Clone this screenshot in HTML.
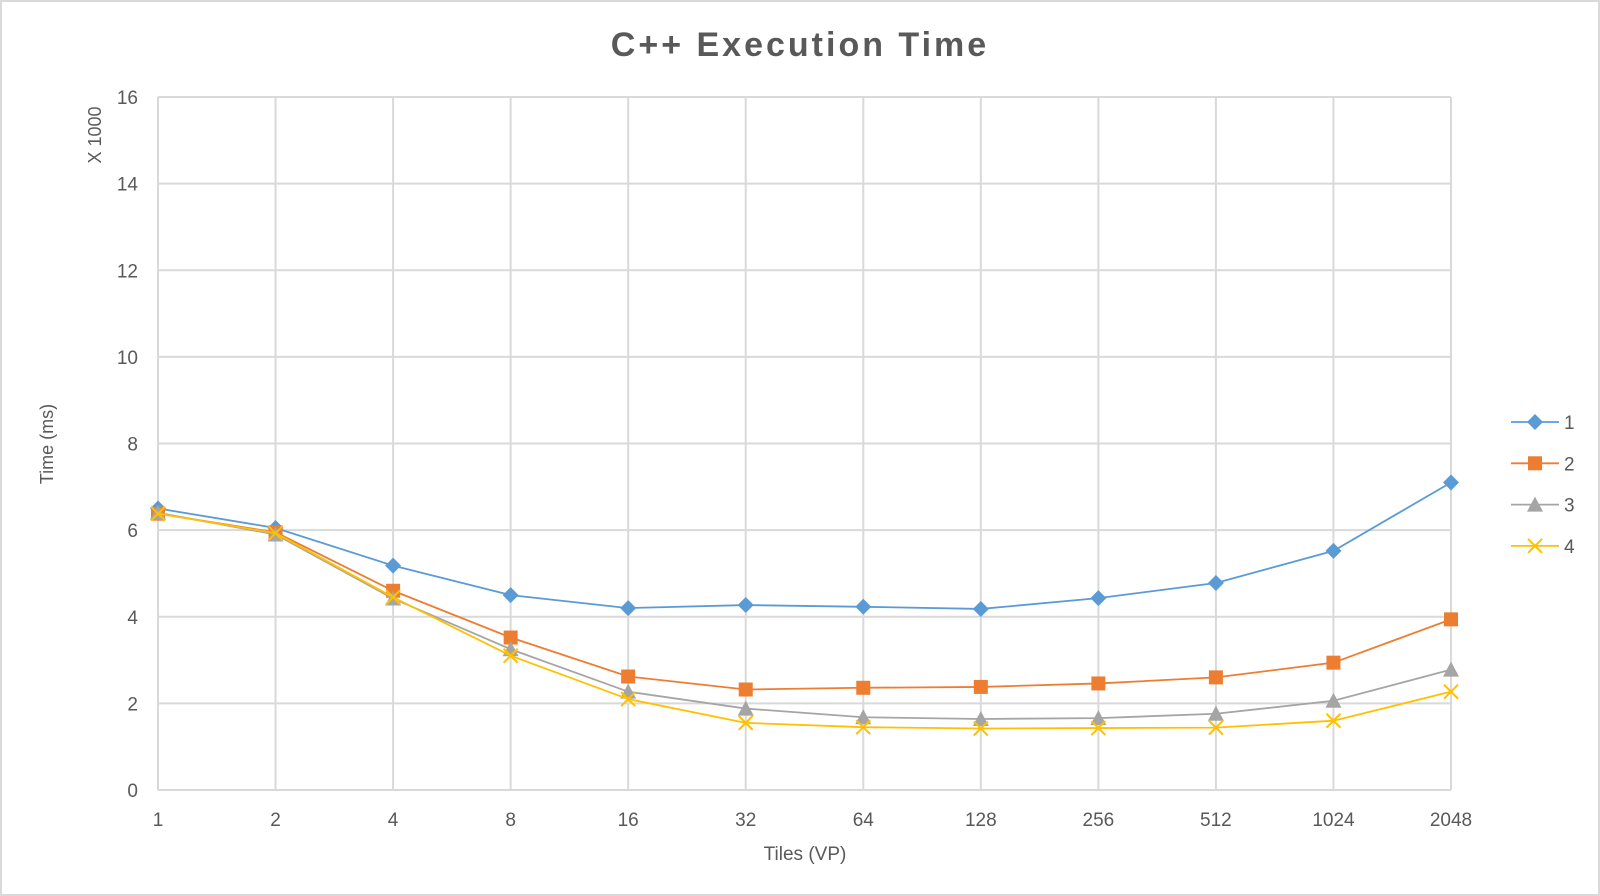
<!DOCTYPE html>
<html><head><meta charset="utf-8"><style>
body{margin:0;background:#fff}
svg{display:block;font-family:"Liberation Sans",sans-serif}
</style></head><body>
<svg width="1600" height="896">
<rect x="1" y="1" width="1598" height="894" fill="#fff" stroke="#d9d9d9" stroke-width="2"/>
<text x="800" y="56" text-anchor="middle" font-size="34" font-weight="bold" fill="#595959" letter-spacing="3">C++ Execution Time</text>
<g id="grid"></g>
<g id="series"></g>
<text transform="translate(53,444) rotate(-90)" text-anchor="middle" font-size="18" fill="#595959">Time (ms)</text>
<text transform="translate(101,135) rotate(-90)" text-anchor="middle" font-size="18" fill="#595959">X 1000</text>
<text x="805" y="860" text-anchor="middle" font-size="19" fill="#595959">Tiles (VP)</text>
<g id="legend"></g>
</svg>
<script>
const categories=["1","2","4","8","16","32","64","128","256","512","1024","2048"];
const yTicks=[0,2,4,6,8,10,12,14,16];
const seriesNames=["1","2","3","4"];
const s1=[6.5,6.05,5.18,4.5,4.2,4.27,4.23,4.18,4.43,4.78,5.52,7.1];
const s2=[6.38,5.95,4.6,3.52,2.62,2.32,2.36,2.38,2.46,2.6,2.94,3.94];
const s3=[6.4,5.9,4.42,3.25,2.27,1.88,1.68,1.64,1.66,1.76,2.06,2.78];
const s4=[6.38,5.93,4.45,3.1,2.1,1.55,1.45,1.42,1.43,1.44,1.6,2.27];
const NS="http://www.w3.org/2000/svg";
const L=158,R=1451,T=97,B=790;
const xs=i=>L+i*(R-L)/(categories.length-1);
const ys=v=>B-(v/16)*(B-T);
function mk(tag,attrs,parent){const e=document.createElementNS(NS,tag);for(const k in attrs)e.setAttribute(k,attrs[k]);parent.appendChild(e);return e;}
const grid=document.getElementById('grid');
yTicks.forEach(t=>{
  let l=mk('line',{x1:L,x2:R,y1:ys(t),y2:ys(t),stroke:'#d9d9d9','stroke-width':2},grid);
  
  
  let tx=mk('text',{x:138,y:ys(t)+7,'text-anchor':'end','font-size':19,fill:'#595959'},grid);
  tx.textContent=t;
  
  
});
categories.forEach((c,i)=>{
  let l=mk('line',{x1:xs(i),x2:xs(i),y1:T,y2:B,stroke:'#d9d9d9','stroke-width':2},grid);
  
  
  let tx=mk('text',{x:xs(i),y:826,'text-anchor':'middle','font-size':19,fill:'#595959'},grid);
  tx.textContent=c;
  
  
});
const colors=["#5b9bd5","#ed7d31","#a5a5a5","#ffc000"];
const data=[s1,s2,s3,s4];
const shapes=["diamond","square","triangle","x"];
function marker(sh,x,y,col,g){
  let e;
  if(sh==="diamond")e=mk('polygon',{points:`${x},${y-8} ${x+8},${y} ${x},${y+8} ${x-8},${y}`,fill:col},g);
  else if(sh==="square")e=mk('rect',{x:x-7,y:y-7,width:14,height:14,fill:col},g);
  else if(sh==="triangle")e=mk('polygon',{points:`${x},${y-8} ${x+8},${y+7} ${x-8},${y+7}`,fill:col},g);
  else e=mk('path',{d:`M${x-7},${y-7}L${x+7},${y+7}M${x+7},${y-7}L${x-7},${y+7}`,stroke:col,'stroke-width':2,fill:'none'},g);
  return e;
}
const sg=document.getElementById('series');
data.forEach((d,si)=>{
  const g=mk('g',{},sg);
  
  
  const p=mk('polyline',{points:d.map((v,i)=>xs(i)+','+ys(v)).join(' '),fill:'none',stroke:colors[si],'stroke-width':1.8},g);
  
  
  d.forEach((v,i)=>{
    const m=marker(shapes[si],xs(i),ys(v),colors[si],g);
    
    
  });
});
const lg=document.getElementById('legend');
seriesNames.forEach((n,si)=>{
  const y=422+si*41.3;
  const g=mk('g',{},lg);
  
  
  mk('line',{x1:1511,x2:1559,y1:y,y2:y,stroke:colors[si],'stroke-width':1.8},g);
  marker(shapes[si],1535,y,colors[si],g);
  const t=mk('text',{x:1564,y:y+7,'font-size':19,fill:'#595959'},g);
  t.textContent=n;
});
</script>
</body></html>
